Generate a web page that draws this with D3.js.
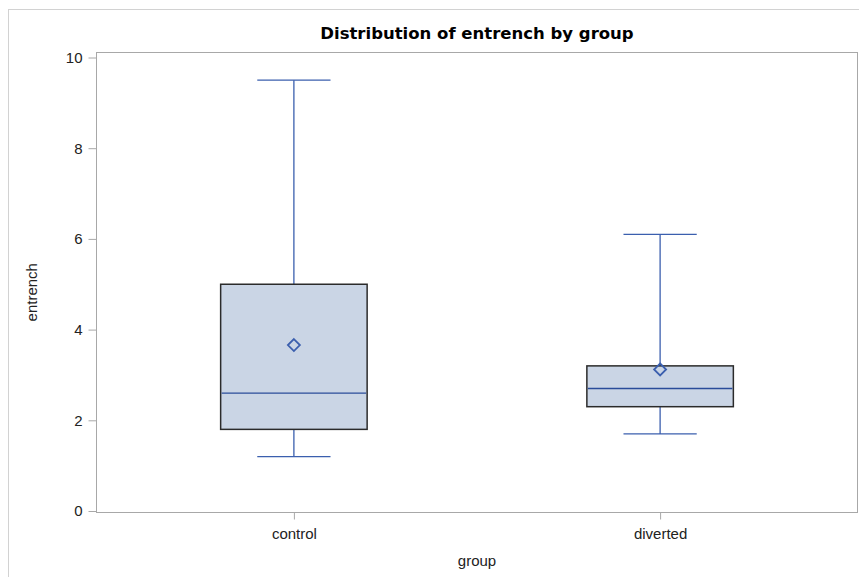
<!DOCTYPE html>
<html>
<head>
<meta charset="utf-8">
<script src="https://cdn.jsdelivr.net/npm/d3@7"></script>
<style>
  html, body { margin: 0; padding: 0; background: #fff; }
  svg { display: block; }
</style>
</head>
<body>
<svg id="chart" width="859" height="577"></svg>
<script>
// Box plot summary statistics of entrench for each group
const groups = ["control", "diverted"];
const q1 = [1.8, 2.3];
const median = [2.6, 2.7];
const q3 = [5.0, 3.2];
const whiskerLow = [1.2, 1.7];
const whiskerHigh = [9.5, 6.1];
const mean = [3.66, 3.12];
const yTicks = [0, 2, 4, 6, 8, 10];

const svg = d3.select("#chart");
const W = 859, H = 577;

// Outer graph border
svg.append("rect")
  .attr("x", 8.5).attr("y", 9.5)
  .attr("width", W + 10).attr("height", H + 10)
  .attr("fill", "#fff").attr("stroke", "#d2d2d2").attr("stroke-width", 1);

const frame = { left: 96.5, top: 52.5, right: 857.5, bottom: 512.5 };

const x = d3.scalePoint()
  .domain(groups)
  .range([frame.left, frame.right])
  .padding(0.539);

const y = d3.scaleLinear()
  .domain([0, 10])
  .range([511, 57.5]);

const step = x.step();
const boxW = step * 0.4;
const capW = step * 0.2;

const font = "'Liberation Sans', Arial, sans-serif";
const axisColor = "#a8a8a8";
const lineBlue = "#3b5fae";
const medianBlue = "#2a4c9a";

// Title
svg.append("text")
  .attr("x", (frame.left + frame.right) / 2)
  .attr("y", 39)
  .attr("text-anchor", "middle")
  .attr("font-family", "'DejaVu Sans', Verdana, sans-serif")
  .attr("font-weight", "bold")
  .attr("font-size", 16.5)
  .attr("fill", "#000")
  .text("Distribution of entrench by group");

// Plot frame
svg.append("rect")
  .attr("x", frame.left).attr("y", frame.top)
  .attr("width", frame.right - frame.left)
  .attr("height", frame.bottom - frame.top)
  .attr("fill", "none").attr("stroke", axisColor).attr("stroke-width", 1);

// Y axis
const yAxis = d3.axisLeft(y).tickValues(yTicks).tickSize(8).tickPadding(6).tickSizeOuter(0);
const gy = svg.append("g").attr("transform", `translate(${frame.left},0)`).call(yAxis);
gy.select(".domain").remove();
gy.selectAll(".tick line").attr("stroke", axisColor);
gy.selectAll(".tick text")
  .attr("font-family", font).attr("font-size", 15).attr("fill", "#222");

// X axis
const xAxis = d3.axisBottom(x).tickSize(7).tickPadding(9).tickSizeOuter(0);
const gx = svg.append("g").attr("transform", `translate(0,${frame.bottom})`).call(xAxis);
gx.select(".domain").remove();
gx.selectAll(".tick line").attr("stroke", axisColor);
gx.selectAll(".tick text")
  .attr("font-family", font).attr("font-size", 15).attr("fill", "#222");

// Axis labels
svg.append("text")
  .attr("x", (frame.left + frame.right) / 2)
  .attr("y", 566)
  .attr("text-anchor", "middle")
  .attr("font-family", font).attr("font-size", 15).attr("fill", "#222")
  .text("group");

svg.append("text")
  .attr("transform", `translate(37,${(y(0) + y(10)) / 2 + 8}) rotate(-90)`)
  .attr("text-anchor", "middle")
  .attr("font-family", font).attr("font-size", 15).attr("fill", "#222")
  .text("entrench");

// Boxes
const data = groups.map((g, i) => ({
  g, q1: q1[i], med: median[i], q3: q3[i],
  lo: whiskerLow[i], hi: whiskerHigh[i], mean: mean[i]
}));

const box = svg.append("g").selectAll("g").data(data).join("g");

// Whiskers
box.append("line")
  .attr("x1", d => x(d.g)).attr("x2", d => x(d.g))
  .attr("y1", d => y(d.q3)).attr("y2", d => y(d.hi))
  .attr("stroke", lineBlue).attr("stroke-width", 1.3);
box.append("line")
  .attr("x1", d => x(d.g)).attr("x2", d => x(d.g))
  .attr("y1", d => y(d.q1)).attr("y2", d => y(d.lo))
  .attr("stroke", lineBlue).attr("stroke-width", 1.3);
// Caps
box.append("line")
  .attr("x1", d => x(d.g) - capW / 2).attr("x2", d => x(d.g) + capW / 2)
  .attr("y1", d => y(d.hi)).attr("y2", d => y(d.hi))
  .attr("stroke", lineBlue).attr("stroke-width", 1.3);
box.append("line")
  .attr("x1", d => x(d.g) - capW / 2).attr("x2", d => x(d.g) + capW / 2)
  .attr("y1", d => y(d.lo)).attr("y2", d => y(d.lo))
  .attr("stroke", lineBlue).attr("stroke-width", 1.3);

// Interquartile box
box.append("rect")
  .attr("x", d => x(d.g) - boxW / 2)
  .attr("y", d => y(d.q3))
  .attr("width", boxW)
  .attr("height", d => y(d.q1) - y(d.q3))
  .attr("fill", "#cad5e5")
  .attr("stroke", "#2b2b2b").attr("stroke-width", 1.5);

// Median
box.append("line")
  .attr("x1", d => x(d.g) - boxW / 2 + 1).attr("x2", d => x(d.g) + boxW / 2 - 1)
  .attr("y1", d => y(d.med)).attr("y2", d => y(d.med))
  .attr("stroke", medianBlue).attr("stroke-width", 1.4);

// Mean marker
const dSize = 6;
box.append("path")
  .attr("d", d => {
    const cx = x(d.g), cy = y(d.mean);
    return `M${cx},${cy - dSize}L${cx + dSize},${cy}L${cx},${cy + dSize}L${cx - dSize},${cy}Z`;
  })
  .attr("fill", "none")
  .attr("stroke", lineBlue).attr("stroke-width", 1.8);
</script>
</body>
</html>
